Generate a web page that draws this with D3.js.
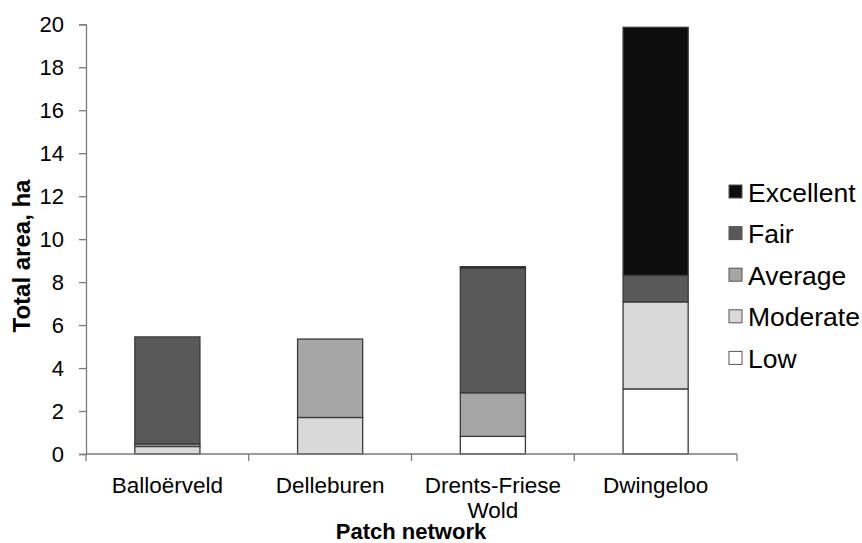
<!DOCTYPE html>
<html><head><meta charset="utf-8">
<script src="https://cdn.jsdelivr.net/npm/d3@7"></script>
<style>body{margin:0;background:#fff}svg{display:block}text{font-family:"Liberation Sans",Arial,sans-serif;fill:#000}</style>
</head><body><svg id="c" width="862" height="543"></svg>
<script>
const categories = ["Balloërveld", "Delleburen", "Drents-Friese Wold", "Dwingeloo"];
const seriesNames = ["Low", "Moderate", "Average", "Fair", "Excellent"];
const low       = [0,    0,    0.82, 3.03];
const moderate  = [0.35, 1.7,  0,    4.05];
const average   = [0.12, 3.65, 2.03, 0];
const fair      = [4.98, 0,    5.8,  1.23];
const excellent = [0,    0,    0.07, 11.55];
const yTicks = [0,2,4,6,8,10,12,14,16,18,20];
const colors = ["#ffffff", "#d9d9d9", "#a6a6a6", "#595959", "#0d0d0d"];

const rows = categories.map((c,i)=>({cat:c, Low:low[i], Moderate:moderate[i], Average:average[i], Fair:fair[i], Excellent:excellent[i]}));
const stack = d3.stack().keys(seriesNames)(rows);

const svg = d3.select("#c");
const x = d3.scaleBand().domain(categories).range([86, 737]).paddingInner(0.6).paddingOuter(0.3);
const xb = d3.scaleBand().domain(categories).range([86, 737]);
const y = d3.scaleLinear().domain([0,20]).range([454, 24.3]);
const color = d3.scaleOrdinal().domain(seriesNames).range(colors);
const axisColor = "#7a7a7a";

// y axis
const ya = svg.append("g").attr("transform","translate(86,0)")
  .call(d3.axisLeft(y).tickValues(yTicks).tickSize(7).tickPadding(15));
ya.select(".domain").attr("stroke",axisColor).attr("stroke-width",1.3);
ya.selectAll(".tick line").attr("stroke",axisColor).attr("stroke-width",1.3);
ya.selectAll(".tick text").style("font-size","22px").style("font-family","Liberation Sans, Arial, sans-serif").attr("fill","#000");

// bars
svg.append("g").selectAll("g").data(stack).join("g")
  .attr("fill", d=>color(d.key))
  .selectAll("rect").data(d=>d.filter(s=>s[1]-s[0]>0)).join("rect")
  .attr("x", d=>x(d.data.cat)).attr("width", x.bandwidth())
  .attr("y", d=>y(d[1])).attr("height", d=>y(d[0])-y(d[1]))
  .attr("stroke","#3a3a3a").attr("stroke-width",1.3);

// x axis
const xa = svg.append("g").attr("transform","translate(0,454)");
xa.append("line").attr("x1",86).attr("x2",737).attr("y1",0).attr("y2",0).attr("stroke",axisColor).attr("stroke-width",1.3);
const bounds = categories.map(c=>xb(c)).concat([xb(categories[categories.length-1])+xb.bandwidth()]);
xa.selectAll("line.t").data(bounds).join("line").attr("class","t")
  .attr("x1",d=>d).attr("x2",d=>d).attr("y1",0).attr("y2",7).attr("stroke",axisColor).attr("stroke-width",1.3);
const lbl = xa.selectAll("text.l").data(categories).join("text").attr("class","l")
  .attr("text-anchor","middle").style("font-size","22.5px")
  .attr("x", d=>xb(d)+xb.bandwidth()/2).attr("y", 39);
lbl.each(function(d){
  const parts = d==="Drents-Friese Wold" ? ["Drents-Friese","Wold"] : [d];
  const t = d3.select(this);
  parts.forEach((p,i)=>t.append("tspan").attr("x", xb(d)+xb.bandwidth()/2).attr("dy", i===0?0:25).text(p));
});

// axis titles
svg.append("text").attr("x",411).attr("y",539).attr("text-anchor","middle")
  .style("font-size","22px").style("font-weight","bold").text("Patch network");
svg.append("text").attr("transform","translate(30,256) rotate(-90)").attr("text-anchor","middle")
  .style("font-size","24px").style("font-weight","bold").text("Total area, ha");

// legend
const legendOrder = seriesNames.slice().reverse();
const lg = svg.append("g").selectAll("g").data(legendOrder).join("g")
  .attr("transform",(d,i)=>`translate(729,${192 + i*41.6})`);
lg.append("rect").attr("x",0).attr("y",-7).attr("width",13).attr("height",13)
  .attr("fill",d=>color(d)).attr("stroke","#555").attr("stroke-width",1);
lg.append("text").attr("x",19).attr("y",9.5).style("font-size","26.5px").text(d=>d);
</script></body></html>
